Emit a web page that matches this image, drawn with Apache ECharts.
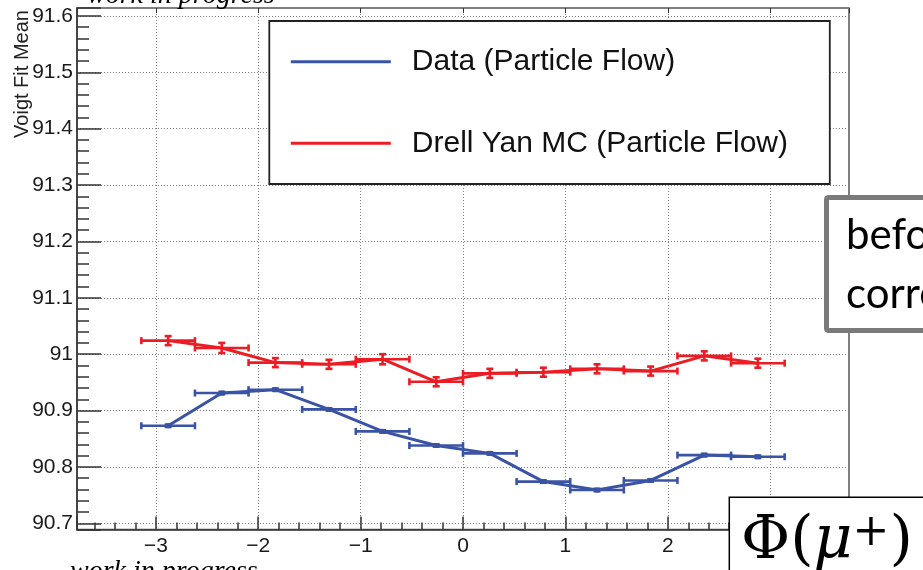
<!DOCTYPE html>
<html><head><meta charset="utf-8">
<script src="https://cdn.jsdelivr.net/npm/echarts@6/dist/echarts.min.js"></script>
<style>html,body{margin:0;padding:0;background:#fff}#chart{width:923px;height:570px}</style>
</head><body><div id="chart"></div>
<script>
// Bin edges in phi (12 bins over [-pi, pi])
const binEdges = [-3.1416, -2.618, -2.0944, -1.5708, -1.0472, -0.5236, 0, 0.5236, 1.0472, 1.5708, 2.0944, 2.618, 3.1416];
// Data (Particle Flow)
const dataValues = [90.873, 90.931, 90.937, 90.902, 90.863, 90.838, 90.824, 90.774, 90.759, 90.776, 90.821, 90.818];
const dataErrors = [0.002, 0.002, 0.002, 0.002, 0.002, 0.002, 0.002, 0.002, 0.002, 0.002, 0.002, 0.002];
// Drell Yan MC (Particle Flow)
const mcValues = [91.024, 91.011, 90.985, 90.982, 90.991, 90.951, 90.966, 90.968, 90.974, 90.970, 90.997, 90.984];
const mcErrors = [0.008, 0.009, 0.008, 0.008, 0.009, 0.008, 0.008, 0.008, 0.008, 0.008, 0.008, 0.008];
const seriesNames = ['Data (Particle Flow)', 'Drell Yan MC (Particle Flow)'];

const FONT = '"Liberation Sans", Arial, Helvetica, sans-serif';
const BLUE = '#3a53a5';
const RED = '#ec1c24';
const AX = '#333';

const centers = binEdges.slice(0, -1).map((e, i) => (e + binEdges[i + 1]) / 2);
const errData = (vals, errs) => vals.map((v, i) => [centers[i], v, binEdges[i], binEdges[i + 1], errs[i]]);
const lineData = vals => vals.map((v, i) => [centers[i], v]);

function errRender(color, marker) {
  return function (params, api) {
    const c = api.value(0), v = api.value(1), lo = api.value(2), hi = api.value(3), e = api.value(4);
    const p = api.coord([c, v]), pl = api.coord([lo, v]), ph = api.coord([hi, v]);
    const pt = api.coord([c, v + e]), pb = api.coord([c, v - e]);
    const st = { stroke: color, lineWidth: 2.6 };
    const cap = 3.5;
    const ch = [
      { type: 'line', shape: { x1: pl[0], y1: p[1], x2: ph[0], y2: p[1] }, style: st },
      { type: 'line', shape: { x1: pl[0], y1: p[1] - cap, x2: pl[0], y2: p[1] + cap }, style: st },
      { type: 'line', shape: { x1: ph[0], y1: p[1] - cap, x2: ph[0], y2: p[1] + cap }, style: st },
      { type: 'line', shape: { x1: p[0], y1: pt[1], x2: p[0], y2: pb[1] }, style: st },
      { type: 'line', shape: { x1: p[0] - cap, y1: pt[1], x2: p[0] + cap, y2: pt[1] }, style: st },
      { type: 'line', shape: { x1: p[0] - cap, y1: pb[1], x2: p[0] + cap, y2: pb[1] }, style: st }
    ];
    if (marker) ch.push({ type: 'rect', shape: { x: p[0] - 2.5, y: p[1] - 2.5, width: 5, height: 5 }, style: { fill: color } });
    return { type: 'group', children: ch };
  };
}

const fmtX = v => {
  const r = Math.round(v);
  if (Math.abs(r - v) > 1e-6) return '';
  return r < 0 ? '\u2212' + (-r) : String(r);
};
const fmtY = v => {
  const r = Math.round(v * 10) / 10;
  if (Math.abs(r - v) > 1e-6) return '';
  return String(r);
};

const grid = { left: 77, right: 74, top: 8, bottom: 40.5, show: true, borderColor: '#555', borderWidth: 1.5, backgroundColor: 'transparent' };
const dotted = { show: true, lineStyle: { color: '#808080', width: 1, type: [1, 2] } };

const chart = echarts.init(document.getElementById('chart'), null, { renderer: 'canvas' });
chart.setOption({
  animation: false,
  backgroundColor: '#fff',
  grid: grid,
  xAxis: [{
    type: 'value', min: -3.77, max: 3.77, splitNumber: 7, minInterval: 1, maxInterval: 1,
    axisLine: { show: true, onZero: false, lineStyle: { color: AX, width: 1.5 } },
    axisTick: { show: true, inside: true, length: 13, lineStyle: { color: AX, width: 1.5 } },
    minorTick: { show: true, splitNumber: 5, length: 7, lineStyle: { color: AX, width: 1.5 } },
    axisLabel: { formatter: fmtX, fontSize: 21, fontFamily: FONT, color: '#1a1a1a', margin: 6 },
    splitLine: dotted
  }, {
    type: 'value', position: 'top', min: -3.77, max: 3.77, splitNumber: 7, minInterval: 1, maxInterval: 1,
    axisLine: { show: false, onZero: false },
    axisTick: { show: true, inside: true, length: 5, lineStyle: { color: AX, width: 1 } },
    axisLabel: { show: false }, splitLine: { show: false }
  }],
  yAxis: [{
    type: 'value', min: 90.689, max: 91.614, splitNumber: 9, minInterval: 0.1, maxInterval: 0.1,
    axisLine: { show: true, onZero: false, lineStyle: { color: AX, width: 1.5 } },
    axisTick: { show: true, inside: true, length: 24, lineStyle: { color: AX, width: 1.5 } },
    minorTick: { show: true, splitNumber: 5, length: 12, lineStyle: { color: AX, width: 1.5 } },
    axisLabel: { formatter: fmtY, fontSize: 21, fontFamily: FONT, color: '#1a1a1a', margin: 4 },
    splitLine: dotted
  }],
  legend: {
    data: seriesNames, orient: 'vertical', left: 289.3, top: 46.7, padding: 0,
    itemWidth: 100, itemHeight: 30, itemGap: 51.6, z: 60,
    itemStyle: { opacity: 0 },
    lineStyle: { width: 3 },
    textStyle: { fontSize: 30, fontFamily: FONT, color: '#111', padding: [0, 0, 0, 16] },
    selectedMode: false
  },
  series: [
    { name: 'dataErr', type: 'custom', renderItem: errRender(BLUE, true), data: errData(dataValues, dataErrors), encode: { x: 0, y: 1 }, z: 3, silent: true },
    { name: 'mcErr', type: 'custom', renderItem: errRender(RED, false), data: errData(mcValues, mcErrors), encode: { x: 0, y: 1 }, z: 3, silent: true },
    { name: seriesNames[0], type: 'line', data: lineData(dataValues), symbol: 'none', color: BLUE, itemStyle: { color: BLUE }, lineStyle: { color: BLUE, width: 3 }, z: 4 },
    { name: seriesNames[1], type: 'line', data: lineData(mcValues), symbol: 'none', color: RED, itemStyle: { color: RED }, lineStyle: { color: RED, width: 3 }, z: 4 }
  ],
  graphic: [
    { type: 'rect', z: 50, shape: { x: 269.3, y: 21, width: 560.5, height: 163 }, style: { fill: '#fff', stroke: '#222', lineWidth: 1.8 } },
    { type: 'text', z: 70, x: 22, y: 74, rotation: Math.PI / 2, style: { text: 'Voigt Fit Mean', font: '20px "Liberation Sans", Arial, sans-serif', fill: '#222', align: 'center', verticalAlign: 'middle' } },
    { type: 'text', z: 70, x: 87, y: -4.5, style: { text: 'work in progress', font: 'italic 28px "Liberation Serif", "Times New Roman", serif', fill: '#000', align: 'left', verticalAlign: 'middle' } },
    { type: 'text', z: 70, x: 70, y: 572, style: { text: 'work in progress', font: 'italic 28px "Liberation Serif", "Times New Roman", serif', fill: '#000', align: 'left', verticalAlign: 'middle' } },
    { type: 'rect', z: 80, shape: { x: 826.5, y: 197.5, width: 200, height: 133, r: 2 }, style: { fill: '#fff', stroke: '#7a7a7a', lineWidth: 5 } },
    { type: 'text', z: 81, x: 846, y: 235, style: { text: 'before', font: '42px Lato, "Open Sans", sans-serif', fill: '#000', align: 'left', verticalAlign: 'middle' } },
    { type: 'text', z: 81, x: 846, y: 294, style: { text: 'corrections', font: '42px Lato, "Open Sans", sans-serif', fill: '#000', align: 'left', verticalAlign: 'middle' } },
    { type: 'rect', z: 80, shape: { x: 729.3, y: 497.3, width: 300, height: 200 }, style: { fill: '#fff', stroke: '#000', lineWidth: 1.5 } },
    { type: 'text', z: 81, x: 741, y: 542, style: {
        text: '{a|\u03A6(}{b|\u03BC}{c|+}{a|)}', fill: '#000', align: 'left', verticalAlign: 'middle',
        rich: {
          a: { fontFamily: '"DejaVu Serif", serif', fontSize: 60, fill: '#000', verticalAlign: 'bottom' },
          b: { fontFamily: '"DejaVu Serif", serif', fontStyle: 'italic', fontSize: 60, fill: '#000', verticalAlign: 'bottom' },
          c: { fontFamily: '"DejaVu Serif", serif', fontSize: 44, fill: '#000', verticalAlign: 'top' }
        } } }
  ]
});
</script></body></html>
